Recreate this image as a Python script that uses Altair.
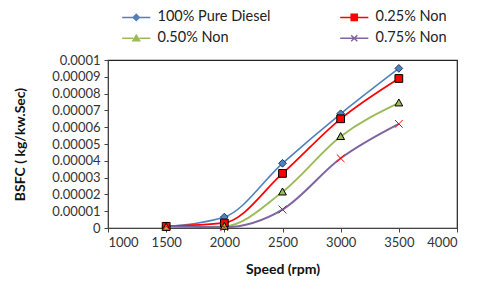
import altair as alt
import pandas as pd

series = ["100% Pure Diesel", "0.25% Non", "0.50% Non", "0.75% Non"]
speed = [1500, 2000, 2500, 3000, 3500]
diesel = [0.0000010, 0.0000065, 0.0000385, 0.0000680, 0.0000950]
non025 = [0.0000010, 0.0000030, 0.0000325, 0.0000650, 0.0000890]
non050 = [0.0000005, 0.0000010, 0.0000215, 0.0000545, 0.0000745]
non075 = [0.0000010, 0.0000005, 0.0000110, 0.0000415, 0.0000620]

line_colors = ["#4F81BD", "#FF0000", "#9BBB59", "#8064A2"]
line_widths = [1.6, 2.0, 1.6, 1.6]
marker_fill = ["#4F81BD", "#FF0000", "#9BBB59", "#FF0000"]
marker_stroke = ["#1F3864", "#000000", "#000000", "#FF0000"]
marker_shapes = [
    "M0,-1L1,0L0,1L-1,0Z",
    "M-1,-1H1V1H-1Z",
    "M0,-1L1,0.8H-1Z",
    "M-1,-1L1,1M1,-1L-1,1",
]
legend_shapes = [
    "M-2.3,0H-0.5M0.5,0H2.3M0,-0.5L0.5,0L0,0.5L-0.5,0Z",
    "M-2.3,0H-0.5M0.5,0H2.3M-0.5,-0.5H0.5V0.5H-0.5Z",
    "M-2.3,0H-0.5M0.5,0H2.3M0,-0.5L0.55,0.4H-0.55Z",
    "M-2.3,0H2.3M-0.5,-0.5L0.5,0.5M0.5,-0.5L-0.5,0.5",
]

rows = []
for name, vals in zip(series, [diesel, non025, non050, non075]):
    for s, v in zip(speed, vals):
        rows.append({"Series": name, "Speed": s, "BSFC": v})
df = pd.DataFrame(rows)

FONT = "Lato"
x = alt.X("Speed:Q", scale=alt.Scale(domain=[1000, 4000], nice=False),
          axis=alt.Axis(values=[1000, 1500, 2000, 2500, 3000, 3500, 4000], format="d",
                        title="Speed (rpm)", titlePadding=13))
y = alt.Y("BSFC:Q", scale=alt.Scale(domain=[0, 0.0001], nice=False),
          axis=alt.Axis(values=[i * 0.00001 for i in range(11)], format=".5~f",
                        title="BSFC ( kg/kw.Sec)", titlePadding=24))

lines = alt.Chart(df).mark_line(interpolate="monotone").encode(
    x=x, y=y,
    stroke=alt.Stroke("Series:N", scale=alt.Scale(domain=series, range=line_colors), legend=None),
    strokeWidth=alt.StrokeWidth("Series:N", scale=alt.Scale(domain=series, range=line_widths), legend=None),
    detail="Series:N",
)

points = alt.Chart(df).mark_point(size=60, strokeWidth=1, opacity=1).encode(
    x=x, y=y,
    shape=alt.Shape("Series:N", scale=alt.Scale(domain=series, range=marker_shapes), legend=None),
    fill=alt.Fill("Series:N", scale=alt.Scale(domain=series, range=marker_fill), legend=None),
    stroke=alt.Stroke("Series:N", scale=alt.Scale(domain=series, range=marker_stroke), legend=None),
)

leg = dict(title=None, orient="none", legendX=21, legendY=-50, direction="horizontal",
           columns=2, columnPadding=66, rowPadding=6,
           symbolSize=150, symbolOpacity=1, symbolStrokeWidth=1.5,
           labelOffset=14, labelFontSize=14.5, labelFont=FONT, labelColor="#222222")

legend_layer = alt.Chart(df).mark_point(size=0, opacity=0, filled=True, strokeWidth=1.5).encode(
    x=x, y=y,
    fill=alt.Fill("Series:N", scale=alt.Scale(domain=series, range=marker_fill),
                  legend=alt.Legend(**leg)),
    stroke=alt.Stroke("Series:N", scale=alt.Scale(domain=series, range=line_colors),
                      legend=alt.Legend(**leg)),
    shape=alt.Shape("Series:N", scale=alt.Scale(domain=series, range=legend_shapes),
                    legend=alt.Legend(**leg)),
)

chart = alt.layer(lines, points, legend_layer).resolve_scale(
    stroke="independent", fill="independent", shape="independent", strokeWidth="independent"
).resolve_legend(
    stroke="independent", fill="independent", shape="independent"
).properties(
    width=349, height=168,
    autosize=alt.AutoSizeParams(type="none"),
    padding={"left": 100, "top": 52, "right": 15, "bottom": 56},
).configure_view(stroke="#222222", strokeWidth=1.2).configure_axis(
    labelFont=FONT, labelFontSize=13, labelColor="#333333",
    titleFont=FONT, titleFontSize=14, titleColor="#111111", titleFontWeight="bold",
    domainColor="#444444", tickColor="#444444", tickSize=4, grid=False,
    labelPadding=4,
)

chart.save("out.html", embed_options={"renderer": "svg", "actions": False})
